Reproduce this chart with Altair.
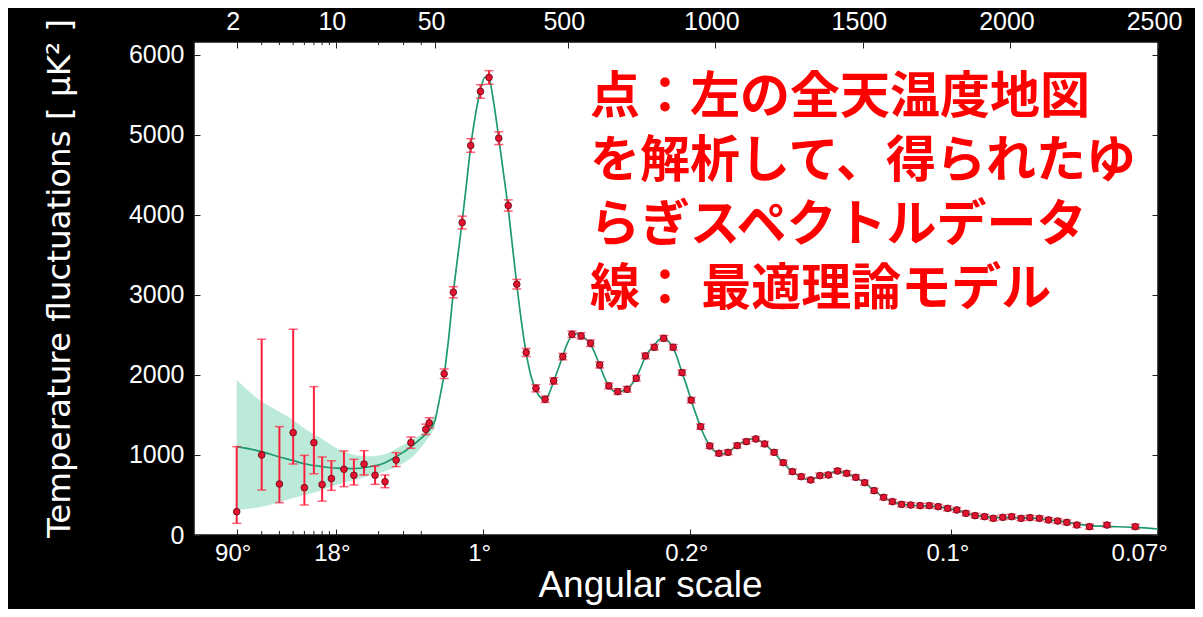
import math
import altair as alt
import pandas as pd

# ------------------------------------------------------------------
# Data
# ------------------------------------------------------------------
# low-ell points (asymmetric error bars)
lowl_ell = [2, 3, 4, 5, 6, 7, 8, 9.3, 11.4, 13.4, 15.8, 18.9, 22.2, 26.6, 33.8, 43.0, 45.5]
lowl_D = [291, 1000, 637, 1279, 591, 1154, 630, 705, 821, 746, 887, 746, 666, 937, 1154, 1320, 1400]
lowl_hi = [1104, 2446, 1354, 2571, 995, 1854, 975, 927, 1050, 946, 1054, 862, 750, 1029, 1224, 1385, 1465]
lowl_lo = [146, 562, 404, 887, 375, 765, 423, 558, 604, 625, 750, 633, 591, 854, 1084, 1255, 1335]

# high-ell binned points
high_ell = [81, 112, 142, 171, 204, 233, 266, 298, 327, 359, 392, 423, 452, 483, 514,
            545, 577, 608, 639, 669, 701, 732, 763, 793, 825, 857, 887, 918, 950, 981,
            1012, 1043, 1074, 1105, 1137, 1167, 1199, 1230, 1261, 1291, 1323, 1354, 1383,
            1414, 1445, 1476, 1506, 1538, 1570, 1600, 1631, 1662, 1694, 1725, 1755, 1787,
            1818, 1849, 1880, 1912, 1942, 1974, 2004, 2036, 2066, 2098, 2129, 2160, 2191,
            2225, 2268, 2327, 2423]
high_D = [2015, 3033, 3904, 4867, 5542, 5717, 4958, 4117, 3133, 2281, 1833, 1696, 1925, 2229, 2508,
          2488, 2396, 2125, 1863, 1792, 1821, 1958, 2238, 2346, 2458, 2346, 2029, 1685, 1354, 1113,
          1021, 1033, 1117, 1167, 1200, 1138, 1033, 904, 792, 729, 688, 742, 750,
          800, 771, 721, 654, 554, 471, 417, 383, 375, 367, 367, 354, 333,
          313, 271, 242, 229, 208, 221, 229, 208, 217, 208, 188, 175, 158,
          125, 104, 125, 104]
high_err = [60, 70, 80, 85, 85, 85, 80, 70, 60, 50, 45, 40, 40, 40, 40,
            40, 40, 38, 36, 35, 35, 35, 35, 35, 35, 35, 34, 33, 32, 31,
            30, 30, 30, 30, 30, 30, 30, 30, 30, 30, 30, 30, 30,
            30, 30, 30, 30, 30, 30, 30, 30, 30, 30, 30, 30, 30,
            30, 30, 30, 30, 30, 30, 30, 30, 30, 30, 30, 30, 30,
            30, 30, 30, 30]

# best-fit theory curve
theory_ell = [2, 3, 4, 5, 6, 8, 10, 13, 17, 22, 26, 32, 40, 45, 50,
              60, 70, 81, 95, 112, 127, 142, 157, 171, 187, 204, 219, 233, 249, 266,
              282, 298, 312, 327, 343, 359, 375, 392, 408, 423, 437, 452, 468, 483, 498,
              514, 530, 545, 561, 577, 592, 608, 624, 639, 655, 670, 685, 701, 716, 732,
              747, 763, 778, 793, 809, 825, 841, 857, 872, 887, 903, 918, 934, 950, 965,
              981, 996, 1012, 1027, 1043, 1058, 1074, 1090, 1105, 1121, 1137, 1152, 1167, 1183, 1199,
              1214, 1230, 1245, 1261, 1276, 1291, 1307, 1323, 1338, 1354, 1369, 1383, 1399, 1414, 1430,
              1445, 1460, 1476, 1491, 1506, 1522, 1538, 1554, 1570, 1585, 1600, 1631, 1662, 1694, 1725,
              1755, 1787, 1818, 1849, 1880, 1912, 1942, 1974, 2004, 2036, 2066, 2098, 2129, 2160, 2191,
              2225, 2268, 2327, 2423, 2500]
theory_D = [1104, 1042, 975, 930, 890, 855, 835, 830, 850, 900, 970, 1070, 1210, 1300, 1430,
            1600, 1790, 2010, 2420, 3030, 3480, 3920, 4400, 4860, 5250, 5560, 5720, 5700, 5400, 4960,
            4520, 4080, 3620, 3130, 2660, 2270, 1990, 1810, 1715, 1695, 1770, 1920, 2080, 2240, 2390,
            2490, 2515, 2490, 2450, 2380, 2270, 2120, 1970, 1860, 1800, 1790, 1800, 1825, 1880, 1965,
            2090, 2230, 2310, 2370, 2440, 2460, 2420, 2340, 2200, 2030, 1860, 1685, 1510, 1350, 1220,
            1115, 1050, 1020, 1015, 1035, 1075, 1115, 1155, 1180, 1200, 1200, 1175, 1135, 1085, 1030,
            965, 902, 845, 792, 755, 727, 700, 690, 710, 738, 752, 762, 785, 795, 785,
            768, 745, 718, 688, 652, 605, 555, 510, 470, 440, 417, 385, 372, 366, 362,
            352, 333, 310, 275, 248, 230, 218, 218, 218, 213, 210, 203, 190, 176, 160,
            138, 118, 108, 95, 75]

# cosmic-variance band around the model
band_ell = [2, 3, 4, 5, 6, 8, 10, 13, 17, 22, 28, 35, 45, 50]
band_hi = [1937, 1667, 1540, 1437, 1330, 1200, 1090, 1010, 985, 1010, 1100, 1200, 1360, 1520]
band_lo = [312, 354, 410, 462, 500, 560, 625, 680, 735, 790, 870, 980, 1220, 1340]

# axis ticks
top_tick_ell = [2, 10, 50, 500, 1000, 1500, 2000, 2500]
angle_tick_ell = [2, 10, 213, 915, 1800, 2450]
angle_tick_labels = ["90°", "18°", "1°", "0.2°", "0.1°", "0.07°"]
minor_tick_ell = [3, 4, 5, 6, 7, 8, 9, 20, 30, 40]
y_ticks = [0, 1000, 2000, 3000, 4000, 5000, 6000]

annotation_lines = ["点：左の全天温度地図", "を解析して、得られたゆ",
                    "らぎスペクトルデータ", "線： 最適理論モデル"]

# ------------------------------------------------------------------
# Hybrid multipole axis: logarithmic for 2..50, linear for 50..2500
# ------------------------------------------------------------------
LOG_SPAN = 198.0
LIN_RATE = 0.2946


def hybrid(ell):
    if ell <= 50:
        return LOG_SPAN * math.log(ell / 2) / math.log(25)
    return LOG_SPAN + (ell - 50) * LIN_RATE


U_EXPR = (f"datum.ell <= 50 ? {LOG_SPAN}*log(datum.ell/2)/log(25) "
          f": {LOG_SPAN}+(datum.ell-50)*{LIN_RATE}")

XMIN, XMAX = hybrid(1.0), hybrid(2500)
xsc = alt.Scale(domain=[XMIN, XMAX], nice=False, zero=False)
ysc = alt.Scale(domain=[0, 6160], nice=False, zero=False)

top_vals = [hybrid(e) for e in top_tick_ell]
bot_vals = [hybrid(e) for e in angle_tick_ell]

top_expr = (f"datum.value <= {LOG_SPAN + 0.01} ? format(2*pow(25, datum.value/{LOG_SPAN}), '.0f') "
            f": format(50+(datum.value-{LOG_SPAN})/{LIN_RATE}, '.0f')")
bot_expr = ""
for i in range(len(bot_vals) - 1):
    mid = (bot_vals[i] + bot_vals[i + 1]) / 2
    bot_expr += f"datum.value < {mid:.2f} ? '{angle_tick_labels[i]}' : "
bot_expr += f"'{angle_tick_labels[-1]}'"

LABEL_FONT = "Liberation Sans"
INWARD = {"expr": "-6"}

common = dict(grid=False, domain=False, tickColor="#222222", tickWidth=1,
              tickSize=INWARD, labelColor="white", labelFont=LABEL_FONT)

ax_bottom = alt.Axis(orient="bottom", values=bot_vals, labelExpr=bot_expr,
                     labelFontSize=24, labelPadding=12, labelFlush=False, labelOffset=-4,
                     tickOpacity={"condition": {"test": f"datum.value > {hybrid(2000)}", "value": 0},
                                  "value": 1},
                     title="Angular scale", titleColor="white", titleFont=LABEL_FONT,
                     titleFontSize=37, titleFontWeight="normal", titlePadding=2,
                     titleX=456, titleAlign="center", **common)
ax_top = alt.Axis(orient="top", values=top_vals, labelExpr=top_expr,
                  labelFontSize=25, labelPadding=14, labelFlush=False, labelOffset=-4,
                  title=None, **common)
ax_left = alt.Axis(orient="left", values=y_ticks, format="d", labelFontSize=25, labelPadding=16,
                   title="Temperature fluctuations [ μK² ]", titleColor="white",
                   titleFont="DejaVu Sans", titleFontSize=32.5, titleFontWeight="normal",
                   titlePadding=52, titleY=236, titleAlign="center", **common)
ax_right = alt.Axis(orient="right", values=y_ticks, labels=False, title=None, **common)

# ------------------------------------------------------------------
# Tables
# ------------------------------------------------------------------
pts = pd.concat([
    pd.DataFrame({"ell": lowl_ell, "D": lowl_D, "lo": lowl_lo, "hi": lowl_hi}),
    pd.DataFrame({"ell": high_ell, "D": high_D,
                  "lo": [d - e for d, e in zip(high_D, high_err)],
                  "hi": [d + e for d, e in zip(high_D, high_err)]}),
], ignore_index=True)
theory = pd.DataFrame({"ell": theory_ell, "D": theory_D})
band = pd.DataFrame({"ell": band_ell, "lo": band_lo, "hi": band_hi})
minor = pd.DataFrame({"ell": minor_tick_ell})

LINE_C = "#1d9a70"
BAND_C = "#a6e3cb"
ERR_C = "#ff1f3d"
PT_C = "#e3122e"

X = lambda ax: alt.X("u:Q", scale=xsc, axis=ax)

band_l = alt.Chart(band).transform_calculate(u=U_EXPR).mark_area(
    color=BAND_C, opacity=0.75, interpolate="monotone").encode(
    x=X(ax_bottom), y=alt.Y("lo:Q", scale=ysc, axis=ax_left), y2="hi:Q")

line_l = alt.Chart(theory).transform_calculate(u=U_EXPR).mark_line(
    color=LINE_C, strokeWidth=1.7, interpolate="monotone").encode(
    x=X(ax_top), y=alt.Y("D:Q", scale=ysc, axis=ax_right))

err_l = alt.Chart(pts).transform_calculate(u=U_EXPR).mark_rule(
    color=ERR_C, strokeWidth=2).encode(
    x=X(None), y=alt.Y("lo:Q", scale=ysc, axis=None), y2="hi:Q")

cap_l = alt.Chart(pts).transform_calculate(u=U_EXPR).transform_fold(
    ["lo", "hi"], as_=["k", "v"]).mark_tick(
    orient="horizontal", color=ERR_C, size=9, thickness=1.5).encode(
    x=X(None), y=alt.Y("v:Q", scale=ysc, axis=None))

pt_l = alt.Chart(pts).transform_calculate(u=U_EXPR).mark_circle(
    size=45, color=PT_C, opacity=1, stroke="#5a0714", strokeWidth=0.8).encode(
    x=X(None), y=alt.Y("D:Q", scale=ysc, axis=None))

minor_bot = alt.Chart(minor).transform_calculate(u=U_EXPR).mark_rule(
    color="#222222", strokeWidth=1).encode(
    x=X(None), y=alt.value(489), y2=alt.value(493))
minor_top = alt.Chart(minor).transform_calculate(u=U_EXPR).mark_rule(
    color="#222222", strokeWidth=1).encode(
    x=X(None), y=alt.value(0), y2=alt.value(3))

text_l = alt.Chart(pd.DataFrame({"t": ["\n".join(annotation_lines)]})).mark_text(
    align="left", baseline="middle", lineBreak="\n", lineHeight=64,
    font="Noto Sans CJK JP", fontSize=50, fontWeight="bold", color="#ff0000").encode(
    x=alt.value(396), y=alt.value(56), text="t:N")

chart = alt.layer(band_l, line_l, err_l, cap_l, pt_l, minor_bot, minor_top, text_l).resolve_axis(
    x="independent", y="independent").properties(
    width=964, height=493,
    padding={"left": 186, "top": 34, "right": 37, "bottom": 74},
    autosize=alt.AutoSizeParams(type="none"),
    background="black",
).configure_view(fill="white", stroke="#111111", strokeWidth=1.5)

chart.save("out.html", embed_options={"renderer": "svg", "actions": False})
